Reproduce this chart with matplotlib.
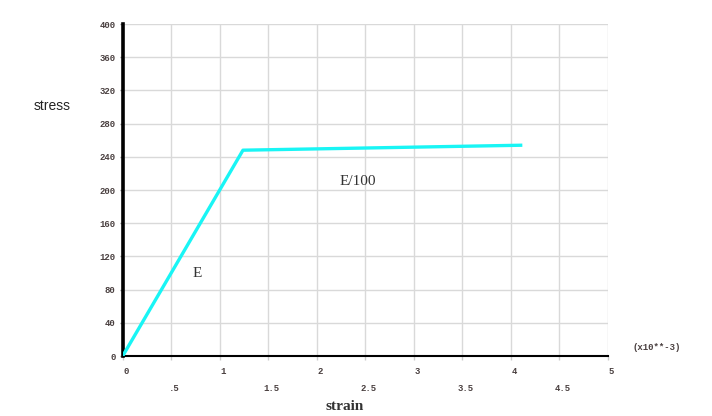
import matplotlib
matplotlib.use("Agg")
import matplotlib.pyplot as plt
from matplotlib.transforms import ScaledTranslation

# data
strain = [0.0, 1.24, 4.12]
stress = [0.0, 248.0, 254.0]
major_xticks = [0, 1, 2, 3, 4, 5]
major_xlabels = ["0", "1", "2", "3", "4", "5"]
minor_xticks = [0.5, 1.5, 2.5, 3.5, 4.5]
minor_xlabels = [".5", "1.5", "2.5", "3.5", "4.5"]
yticks = [0, 40, 80, 120, 160, 200, 240, 280, 320, 360, 400]
ylabels = [str(v) for v in yticks]

fig = plt.figure(figsize=(7.12, 4.16), dpi=100)
ax = fig.add_axes([0.1723, 0.1442, 0.6812, 0.798])

ax.plot(strain, stress, color="#19F5F5", lw=2.4, solid_capstyle="butt", zorder=3)

ax.set_xlim(0, 5)
ax.set_ylim(0, 400)

mono = "Liberation Mono"
tick_color = "#4a4040"
tkw = dict(fontfamily=mono, fontsize=6.5, color=tick_color, fontweight="bold")
ax.set_xticks(major_xticks)
ax.set_xticklabels(major_xlabels, **tkw)
ax.set_xticks(minor_xticks, minor=True)
ax.set_xticklabels(minor_xlabels, minor=True, **tkw)
ax.set_yticks(yticks)
ax.set_yticklabels(ylabels, **tkw)

ax.tick_params(axis="x", which="major", length=3, pad=5, color="#cccccc", width=1)
ax.tick_params(axis="x", which="minor", length=3, pad=17, color="#cccccc", width=1)
ax.tick_params(axis="y", which="major", length=2, pad=3, color="#888888", width=1)

shift = ScaledTranslation(3.5 / 100, 0, fig.dpi_scale_trans)
for lab in ax.get_xticklabels(which="both"):
    lab.set_transform(lab.get_transform() + shift)

ax.grid(True, which="both", color="#d9d9d9", lw=1.0, zorder=0)
ax.set_axisbelow(True)

for s in ["top", "right"]:
    ax.spines[s].set_visible(False)
ax.spines["left"].set_linewidth(2.6)
ax.spines["left"].set_color("black")
ax.spines["bottom"].set_linewidth(1.5)
ax.spines["bottom"].set_color("black")

serif = "Liberation Serif"
ax.text(0.77, 100, "E", fontfamily=serif, fontsize=11, color="#333333",
        ha="center", va="center")
ax.text(2.42, 210, "E/100", fontfamily=serif, fontsize=11, color="#333333",
        ha="center", va="center")

fig.text(52 / 712, 1 - 106 / 416, "stress", fontfamily="Liberation Sans", fontsize=10,
         color="#222222", ha="center", va="center")
fig.text(345 / 712, 1 - 407 / 416, "strain", fontfamily=serif, fontsize=11,
         fontweight="bold", color="#333333", ha="center", va="center")
fig.text(657 / 712, 1 - 348 / 416, "(x10**-3)", fontfamily=mono, fontsize=6.5,
         fontweight="bold", color=tick_color, ha="center", va="center")

fig.savefig("out.png", dpi=100)
